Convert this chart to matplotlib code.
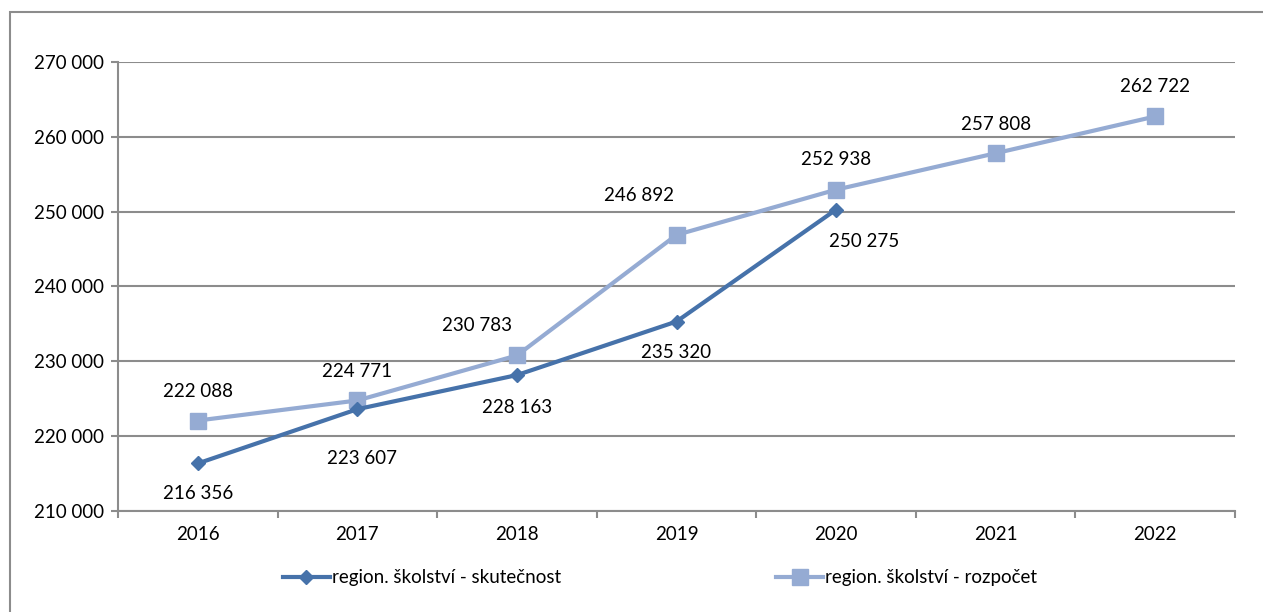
import matplotlib.pyplot as plt
from matplotlib.patches import Rectangle
from matplotlib.ticker import FuncFormatter

plt.rcParams["font.family"] = ["Lato", "DejaVu Sans"]

# data
years = ["2016", "2017", "2018", "2019", "2020", "2021", "2022"]
skutecnost = [216356, 223607, 228163, 235320, 250275]
rozpocet = [222088, 224771, 230783, 246892, 252938, 257808, 262722]
name_skut = "region. školství - skutečnost"
name_rozp = "region. školství - rozpočet"

dark = "#4672AA"
light = "#95ABD3"
grid_col = "#8C8C8C"
fs = 13.5

fig = plt.figure(figsize=(12.63, 6.12), dpi=100)
ax = fig.add_axes([118 / 1263, 1 - 511 / 612, (1235 - 118) / 1263, (511 - 62) / 612])

x_sk = list(range(len(skutecnost)))
x_rz = list(range(len(rozpocet)))

ax.plot(x_rz, rozpocet, color=light, lw=3, marker="s", markersize=11,
        label=name_rozp, zorder=3)
ax.plot(x_sk, skutecnost, color=dark, lw=3, marker="D", markersize=7.5,
        label=name_skut, zorder=4)


def fmt(v):
    return f"{int(v):,}".replace(",", " ")


# label offsets in pixels (dx, dy)
off_rz = [(0, 29), (0, 29), (-40, 30), (-38, 39), (0, 30), (0, 29), (0, 30)]
off_sk = [(0, -30), (5, -49), (0, -32), (0, -31), (28, -32)]

for i, v in enumerate(rozpocet):
    ax.annotate(fmt(v), (x_rz[i], v), xytext=off_rz[i], textcoords="offset pixels",
                ha="center", va="center", fontsize=fs, color="black")
for i, v in enumerate(skutecnost):
    ax.annotate(fmt(v), (x_sk[i], v), xytext=off_sk[i], textcoords="offset pixels",
                ha="center", va="center", fontsize=fs, color="black")

ax.set_xlim(-0.5, len(years) - 0.5)
ax.set_ylim(210000, 270000)
ax.set_yticks(range(210000, 270001, 10000))
ax.yaxis.set_major_formatter(FuncFormatter(lambda v, p: fmt(v)))
ax.set_xticks(x_rz)
ax.set_xticklabels(years)
ax.set_xticks([i - 0.5 for i in range(len(years) + 1)], minor=True)

ax.tick_params(axis="x", which="major", length=0, pad=11, labelsize=fs)
ax.tick_params(axis="x", which="minor", length=5, width=1.5, color=grid_col)
ax.tick_params(axis="y", length=5, width=1.5, color=grid_col, pad=5, labelsize=fs)

ax.grid(axis="y", color=grid_col, lw=1.5)
ax.set_axisbelow(True)
for s in ["top", "right"]:
    ax.spines[s].set_visible(False)
for s in ["left", "bottom"]:
    ax.spines[s].set_color(grid_col)
    ax.spines[s].set_linewidth(1.5)

handles, labels = ax.get_legend_handles_labels()
fig.legend(handles[::-1], labels[::-1], loc="center", ncol=2,
           bbox_to_anchor=(660 / 1263, 1 - 578 / 612), frameon=False,
           fontsize=fs, handlelength=2.5, handletextpad=0.1, columnspacing=11.5)

# outer chart border
fig.patches.append(Rectangle((10 / 1263, -0.1), 1.2, 1 - 12 / 612 + 0.1,
                             transform=fig.transFigure, fill=False,
                             edgecolor=grid_col, lw=1.5))

fig.savefig("out.png", dpi=100)
